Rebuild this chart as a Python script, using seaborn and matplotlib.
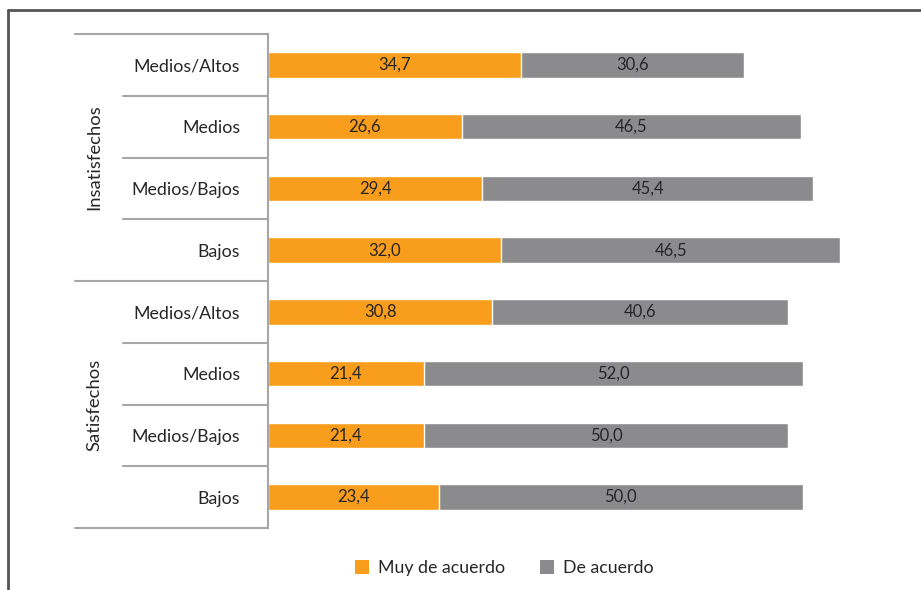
import matplotlib
matplotlib.use("Agg")
import matplotlib.pyplot as plt
from matplotlib.lines import Line2D
from matplotlib.patches import Patch
import seaborn as sns
import pandas as pd

groups = ["Insatisfechos", "Satisfechos"]
levels = ["Medios/Altos", "Medios", "Medios/Bajos", "Bajos"]
muy_de_acuerdo = [34.7, 26.6, 29.4, 32.0, 30.8, 21.4, 21.4, 23.4]
de_acuerdo = [30.6, 46.5, 45.4, 46.5, 40.6, 52.0, 50.0, 50.0]
series_names = ["Muy de acuerdo", "De acuerdo"]

ORANGE = "#F99D1C"
GRAY = "#8B8B8E"
TXT = "#262626"
LINE = "#A6A6A6"

rows = []
for gi, g in enumerate(groups):
    for li, l in enumerate(levels):
        i = gi * len(levels) + li
        rows.append({"key": f"{g}|{l}", "level": l, "group": g,
                     "muy": muy_de_acuerdo[i], "de": de_acuerdo[i],
                     "total": muy_de_acuerdo[i] + de_acuerdo[i]})
df = pd.DataFrame(rows)
order = list(df["key"])

sns.set_theme(style="white")
plt.rcParams["font.family"] = ["Lato", "DejaVu Sans"]

W, H = 921, 590
fig = plt.figure(figsize=(W / 100, H / 100), dpi=100)
ax_left, ax_right = 268 / W, 1.0
ax_top, ax_bot = 1 - 34 / H, 1 - 528 / H
ax = fig.add_axes([ax_left, ax_bot, ax_right - ax_left, ax_top - ax_bot])

sns.barplot(data=df, y="key", x="total", order=order, orient="h",
            color=GRAY, width=0.41, ax=ax, saturation=1)
sns.barplot(data=df, y="key", x="muy", order=order, orient="h",
            color=ORANGE, width=0.41, ax=ax, saturation=1)

px_per_unit = (840 - 268) / 78.5
ax.set_xlim(0, (W - 268) / px_per_unit)
ax.set_ylim(len(order) - 0.5, -0.5)

for i, r in df.iterrows():
    ax.text(r["muy"] / 2, i, f"{r['muy']:.1f}".replace(".", ","),
            ha="center", va="center", fontsize=12, color=TXT)
    ax.text(r["muy"] + r["de"] / 2, i, f"{r['de']:.1f}".replace(".", ","),
            ha="center", va="center", fontsize=12, color=TXT)

ax.set_yticks(range(len(order)))
ax.set_yticklabels(list(df["level"]), fontsize=12.8, color=TXT)
ax.tick_params(axis="y", length=0, pad=20)
ax.set_xticks([])
ax.set_xlabel("")
ax.set_ylabel("")
for s in ["top", "right", "bottom"]:
    ax.spines[s].set_visible(False)
ax.spines["left"].set_color(LINE)
ax.spines["left"].set_linewidth(1.5)

def fx(x):
    return x / W

def fy(y):
    return 1 - y / H

row_h = (528 - 34) / 8
for k in range(9):
    y = 34 + k * row_h
    x0 = 75 if k in (0, 4, 8) else 123
    fig.add_artist(Line2D([fx(x0), fx(268)], [fy(y), fy(y)],
                          color=LINE, lw=1.5))

for gi, g in enumerate(groups):
    yc = 34 + (gi * 4 + 2) * row_h
    fig.text(fx(94), fy(yc), g, rotation=90, ha="center", va="center",
             fontsize=13.3, color=TXT)

fig.add_artist(Line2D([fx(8), fx(8)], [fy(9.5), 0], color="#555555", lw=2))
fig.add_artist(Line2D([fx(8), 1], [fy(9.5), fy(9.5)], color="#555555", lw=2))

handles = [Patch(facecolor=ORANGE, edgecolor="none"),
           Patch(facecolor=GRAY, edgecolor="none")]
fig.legend(handles, series_names, loc="center", bbox_to_anchor=(fx(504), fy(568)),
           ncol=2, frameon=False, fontsize=12.8, handlelength=0.8, handleheight=0.8,
           handletextpad=0.5, columnspacing=1.95, labelcolor=TXT)

fig.savefig("out.png", dpi=100)
